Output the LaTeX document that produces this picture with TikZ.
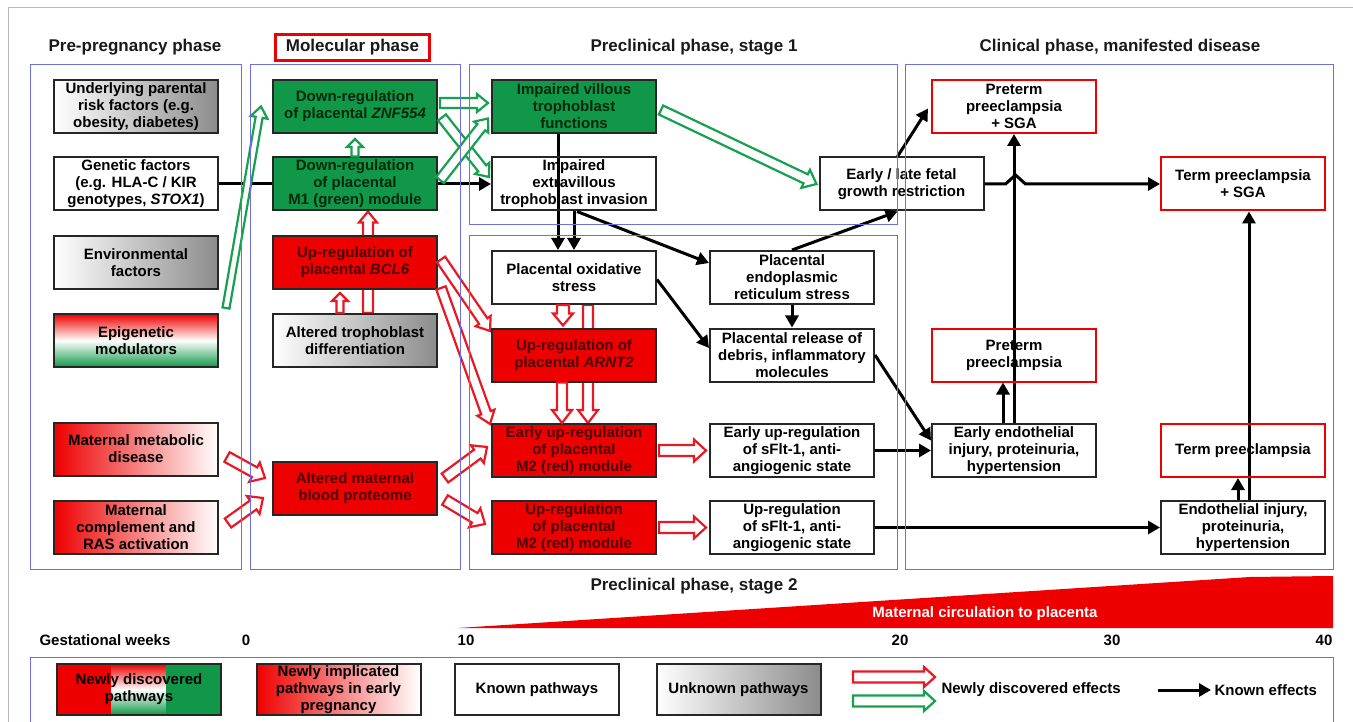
\documentclass[tikz,border=0pt]{standalone}
\usepackage{fontspec}
\setmainfont{Liberation Sans}
\usetikzlibrary{arrows.meta,calc}
\pgfdeclarelayer{bg}
\pgfdeclarelayer{behind}
\pgfsetlayers{bg,behind,main}

\definecolor{pred}{RGB}{238,0,0}
\definecolor{pgreen}{RGB}{16,152,72}
\definecolor{pblue}{RGB}{110,110,225}
\definecolor{rtext}{RGB}{75,0,0}
\definecolor{gtext}{RGB}{0,40,12}
\definecolor{fxred}{RGB}{232,24,36}
\definecolor{fxgreen}{RGB}{22,160,80}

\newcommand\boxfont{\fontsize{15}{17}\selectfont\bfseries}
\newcommand\titlefont{\fontsize{17}{20}\selectfont\bfseries}

% hollow block arrow between two points
\tikzset{
  hw/.store in=\fxhw, hh/.store in=\fxhh, hl/.store in=\fxhl,
  hw=5.5pt, hh=11pt, hl=12pt,
  fxsmall/.style={hw=3.5pt, hh=8pt, hl=8pt},
  newfx/.style={draw=#1, fill=white, line width=2.2pt, line join=miter,
    to path={
      ($(\tikztostart)!\fxhw!90:(\tikztotarget)$)
      -- ($($(\tikztotarget)!\fxhl!(\tikztostart)$)!\fxhw!-90:(\tikztostart)$)
      -- ($($(\tikztotarget)!\fxhl!(\tikztostart)$)!\fxhh!-90:(\tikztostart)$)
      -- (\tikztotarget)
      -- ($($(\tikztotarget)!\fxhl!(\tikztostart)$)!\fxhh!90:(\tikztostart)$)
      -- ($($(\tikztotarget)!\fxhl!(\tikztostart)$)!\fxhw!90:(\tikztostart)$)
      -- ($(\tikztostart)!\fxhw!-90:(\tikztotarget)$)
      -- cycle}}
}

\begin{document}
\begin{tikzpicture}[x=1pt,y=-1pt,>={Triangle[length=12pt,width=13pt]},
  box/.style={draw=black!85, line width=2pt, minimum width=164pt, minimum height=53pt,
    inner sep=1pt, align=center, font=\boxfont},
  greenbox/.style={box, fill=pgreen, text=gtext},
  redbox/.style={box, fill=pred, text=rtext},
  greybox/.style={box, left color=white, right color=black!45},
  redfade/.style={box, left color=pred, right color=white},
  outcome/.style={box, draw=pred},
  lbox/.style={box, minimum height=51pt},
  phase/.style={font=\titlefont, text=black!90},
  label/.style={font=\boxfont},
  panel/.style={draw=pblue, line width=1pt},
  known/.style={->, line width=3pt}]
\useasboundingbox (0,0) rectangle (1353,722);
\begin{pgfonlayer}{bg}
\fill[white] (0,0) rectangle (1353,722);
\end{pgfonlayer}
\draw[gray!55, line width=1pt] (8,722) -- (8,8) -- (1353,8);

% phase titles
\node[phase] (tpre) at (135,47) {Pre-pregnancy phase};
\node[phase, draw=pred, line width=2.5pt, minimum width=154pt, minimum height=26pt] (tmol) at (352.5,47.5) {Molecular phase};
\node[phase] (tpcone) at (694,47) {Preclinical phase, stage 1};
\node[phase] (tclin) at (1120,47) {Clinical phase, manifested disease};
\node[phase] (tpctwo) at (694,586) {Preclinical phase, stage 2};

% pre-pregnancy
\node[greybox] (risk) at (136,106.5) {Underlying parental\\risk factors (e.g.\\obesity, diabetes)};
\node[box] (genetic) at (136,184) {Genetic factors\\(e.g. HLA-C / KIR\\genotypes, \textit{STOX1})};
\node[greybox] (env) at (136,262.5) {Environmental\\factors};
\node[box, top color=pred, bottom color=pgreen, middle color=white] (epi) at (136,340.5) {Epigenetic\\modulators};
\node[redfade] (metab) at (136,449) {Maternal metabolic\\disease};
\node[redfade] (compl) at (136,527) {Maternal\\complement and\\RAS activation};

% molecular
\node[greenbox] (znf) at (355,106.5) {Down-regulation\\of placental \textit{ZNF554}};
\node[greenbox] (mone) at (355,184) {Down-regulation\\of placental\\M1 (green) module};
\node[redbox] (bcl) at (355,262.5) {Up-regulation of\\placental \textit{BCL6}};
\node[greybox] (diff) at (355,340.5) {Altered trophoblast\\differentiation};
\node[redbox] (blood) at (355,488) {Altered maternal\\blood proteome};

% preclinical
\node[greenbox] (villous) at (574,106.5) {Impaired villous\\trophoblast\\functions};
\node[box] (evt) at (574,184) {Impaired\\extravillous\\trophoblast invasion};
\node[box] (fgr) at (901.5,184) {Early / late fetal\\growth restriction};
\node[box] (oxi) at (574,277.5) {Placental oxidative\\stress};
\node[redbox] (arnt) at (574,355) {Up-regulation of\\placental \textit{ARNT2}};
\node[redbox] (emtwo) at (574,450.5) {Early up-regulation\\of placental\\M2 (red) module};
\node[redbox] (mtwo) at (574,527.5) {Up-regulation\\of placental\\M2 (red) module};
\node[box] (ers) at (792,277.5) {Placental\\endoplasmic\\reticulum stress};
\node[box] (debris) at (792,355) {Placental release of\\debris, inflammatory\\molecules};
\node[box] (esflt) at (792,450.5) {Early up-regulation\\of sFlt-1, anti-\\angiogenic state};
\node[box] (sflt) at (792,527.5) {Up-regulation\\of sFlt-1, anti-\\angiogenic state};

% clinical
\node[outcome] (ptsga) at (1014,106.5) {Preterm\\preeclampsia\\+ SGA};
\node[outcome] (tsga) at (1243,184) {Term preeclampsia\\+ SGA};
\node[outcome] (pt) at (1014,355) {Preterm\\preeclampsia};
\node[box] (eendo) at (1014,450.5) {Early endothelial\\injury, proteinuria,\\hypertension};
\node[outcome] (tpe) at (1243,450.5) {Term preeclampsia};
\node[box] (endo) at (1243,527.5) {Endothelial injury,\\proteinuria,\\hypertension};

% connectors running behind boxes
\begin{pgfonlayer}{behind}
\draw[known] (genetic.east) -- (evt.west);
\draw[known] ([xshift=-16pt]villous.south) -- ([xshift=-16pt]oxi.north);
\draw[known] (eendo.north) -- (ptsga.south);
\draw[known] ([xshift=6pt]endo.north) -- ([xshift=6pt]tsga.south);
\draw[newfx=fxred, hw=5pt, hh=9pt, hl=11pt] ([xshift=13pt]diff.north) to ([xshift=13pt]mone.south);
\draw[newfx=fxred, hw=5pt, hh=10pt, hl=13pt] ([xshift=14pt]oxi.south) to ([xshift=14pt]emtwo.north);
\end{pgfonlayer}

% known effects
\draw[known] (evt.south) -- (oxi.north);
\draw[known] ([xshift=3pt]evt.south) -- ([yshift=14.5pt]ers.west);
\draw[known] (ers.north) -- ([xshift=-4pt]fgr.south);
\draw[known] ([xshift=-4pt]fgr.north) -- ([shift={(-3pt,-2pt)}]ptsga.west);
\draw[known] (fgr.east) -- ++(21,0) -- ++(10,-9) -- ++(10,9) -- (tsga.west);
\draw[known] ([xshift=-11pt]eendo.north) -- ([xshift=-11pt]pt.south);
\draw[known] ([xshift=-5pt]endo.north) -- ([xshift=-5pt]tpe.south);
\draw[known] (debris.east) -- ([yshift=10pt]eendo.west);
\draw[known] (esflt.east) -- (eendo.west);
\draw[known] (sflt.east) -- (endo.west);
\draw[known] ([yshift=-2pt]oxi.east) -- ([yshift=7pt]debris.west);
\draw[known] (ers.south) -- (debris.north);

% newly discovered effects, green
\draw[newfx=fxgreen, hw=3.5pt, hh=8.5pt, hl=11pt] ([shift={(7pt,5pt)}]epi.north east) to ([xshift=-11pt]znf.west);
\draw[newfx=fxgreen, fxsmall] (mone.north) to ([yshift=-5pt]znf.south);
\draw[newfx=fxgreen, hw=5pt, hh=9pt, hl=11pt] ([shift={(2pt,3.5pt)}]znf.east) to ([shift={(-3pt,3.5pt)}]villous.west);
\draw[newfx=fxgreen, hw=5pt, hh=9pt, hl=11pt] ([shift={(4pt,-11pt)}]znf.east) to ([shift={(-2pt,7pt)}]evt.west);
\draw[newfx=fxgreen, hw=5pt, hh=9pt, hl=11pt] ([shift={(2pt,4pt)}]mone.east) to ([shift={(-3pt,-12pt)}]villous.west);
\draw[newfx=fxgreen, hw=5pt, hh=10pt, hl=12pt] ([shift={(4pt,-3.5pt)}]villous.east) to ([xshift=-2pt]fgr.west);

% newly discovered effects, red
\draw[newfx=fxred, fxsmall] ([xshift=-15pt]diff.north) to ([shift={(-15pt,-3pt)}]bcl.south);
\draw[newfx=fxred, hw=5pt, hh=9pt] ([shift={(3pt,3pt)}]bcl.east) to ([shift={(-1pt,24pt)}]arnt.west);
\draw[newfx=fxred, hw=5pt, hh=9pt] ([shift={(3pt,2pt)}]bcl.south east) to ([shift={(-1pt,-1pt)}]emtwo.north west);
\draw[newfx=fxred, hw=6pt, hh=10pt, hl=12pt] ([xshift=-11pt]oxi.south) to ([shift={(-11pt,2pt)}]arnt.north);
\draw[newfx=fxred, hw=5pt, hh=10pt, hl=13pt] ([xshift=-12pt]arnt.south) to ([xshift=-12pt]emtwo.north);
\draw[newfx=fxred] ([xshift=2pt]emtwo.east) to ([xshift=-3pt]esflt.west);
\draw[newfx=fxred] ([xshift=2pt]mtwo.east) to ([xshift=-3pt]sflt.west);
\draw[newfx=fxred] ([shift={(7pt,10pt)}]blood.east) to ([shift={(-4pt,3.5pt)}]emtwo.west);
\draw[newfx=fxred] ([shift={(7pt,-12pt)}]blood.east) to ([shift={(-6pt,3.5pt)}]mtwo.west);
\draw[newfx=fxred] ([shift={(8pt,-8pt)}]metab.east) to ([shift={(-7pt,10pt)}]blood.west);
\draw[newfx=fxred] ([shift={(9pt,4pt)}]compl.east) to ([shift={(-9pt,-10pt)}]blood.west);

% panels
\draw[panel] (30,65) rectangle (241,569);
\draw[panel] (250,65) rectangle (460,569);
\draw[panel] (469,65) rectangle (897,225);
\draw[panel] (469,236) rectangle (897,569);
\draw[panel] (905,65) rectangle (1333,569);
\draw[panel] (30,657) rectangle (1333,740);

% maternal circulation and time axis
\fill[pred] (458,628) -- (1250,577) -- (1333,576) -- (1333,628) -- cycle;
\node[label, text=white] (circ) at (985,614) {Maternal circulation to placenta};
\node[label, anchor=west] (gw) at (36,640) {Gestational weeks};
\node[label] (wzero) at (246,640) {0};
\node[label] (wten) at (466,640) {10};
\node[label] (wtwenty) at (900,640) {20};
\node[label] (wthirty) at (1112,640) {30};
\node[label] (wforty) at (1324,640) {40};

% legend
\node[lbox, path picture={
  \fill[pred] (path picture bounding box.south west) rectangle ($(path picture bounding box.north west)!0.333!(path picture bounding box.north east)$);
  \shade[top color=pred, bottom color=pgreen, middle color=white] ($(path picture bounding box.south west)!0.333!(path picture bounding box.south east)$) rectangle ($(path picture bounding box.north west)!0.667!(path picture bounding box.north east)$);
  \fill[pgreen] ($(path picture bounding box.south west)!0.667!(path picture bounding box.south east)$) rectangle (path picture bounding box.north east);
  }] (lnew) at (139,689.5) {Newly discovered\\pathways};
\node[lbox, left color=pred, right color=white] (limpl) at (338.5,689.5) {Newly implicated\\pathways in early\\pregnancy};
\node[lbox] (lknown) at (537,689.5) {Known pathways};
\node[lbox, left color=white, right color=black!45] (lunknown) at (738.5,689.5) {Unknown pathways};
\coordinate (lra) at (853,677);
\coordinate (lrb) at (935,677);
\coordinate (lga) at (853,701);
\coordinate (lgb) at (935,701);
\draw[newfx=fxred, hw=5.5pt, hh=10pt, hl=11pt] (lra) to (lrb);
\draw[newfx=fxgreen, hw=5.5pt, hh=10pt, hl=11pt] (lga) to (lgb);
\node[label, anchor=west] (lnewfx) at (938,690) {Newly discovered effects};
\coordinate (lka) at (1158,690);
\node[label, anchor=west] (lknownfx) at (1211,690) {Known effects};
\draw[known] (lka) -- (lknownfx.west);
\end{tikzpicture}
\end{document}
